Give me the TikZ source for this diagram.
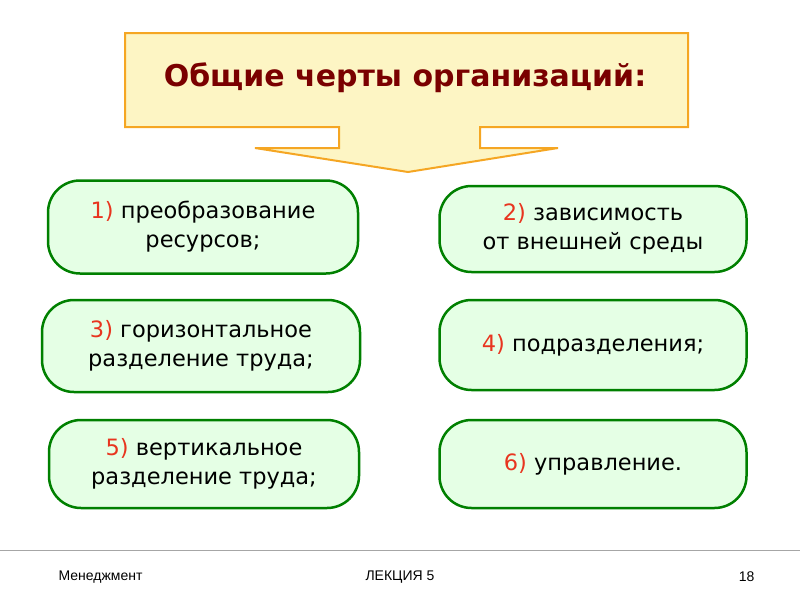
\documentclass[tikz,border=0pt]{standalone}
\usepackage{fontspec}
\setmainfont{DejaVu Sans}
\newfontfamily\arialf{Liberation Sans}
\begin{document}
\begin{tikzpicture}[x=1pt,y=-1pt,
  item/.style={draw=green!50!black,line width=2.5pt,fill=green!10,rounded corners=32pt,minimum width=310pt,align=center,inner sep=2pt,font=\fontsize{22.5}{29}\selectfont,text=black},
  foot/.style={font=\arialf\fontsize{14}{16}\selectfont}]
\definecolor{numred}{HTML}{E8351F}
\definecolor{titlered}{HTML}{7A0000}
\definecolor{callfill}{HTML}{FDF5C4}
\definecolor{callline}{HTML}{F5A623}
\useasboundingbox (0,0) rectangle (800,600);
\draw[callline,fill=callfill,line width=2pt,line join=miter]
  (125,33) -- (688,33) -- (688,127) -- (480,127) -- (480,148) -- (558,148) -- (408,172)
  -- (255,148) -- (339,148) -- (339,127) -- (125,127) -- cycle;
\node[text=titlered,font=\bfseries\fontsize{30}{34}\selectfont] (title) at (405,78) {Общие черты организаций:};
\node[item,minimum height=93pt] (b1) at (203,227) {\textcolor{numred}{1)} преобразование\\ресурсов;};
\node[item,minimum height=86pt,minimum width=307pt] (b2) at (593,229) {\textcolor{numred}{2)} зависимость\\от внешней среды};
\node[item,minimum height=92pt,minimum width=318pt] (b3) at (201,346) {\textcolor{numred}{3)} горизонтальное\\разделение труда;};
\node[item,minimum height=90pt,minimum width=307pt] (b4) at (593,345) {\textcolor{numred}{4)} подразделения;};
\node[item,minimum height=88pt,minimum width=310pt] (b5) at (204,464) {\textcolor{numred}{5)} вертикальное\\разделение труда;};
\node[item,minimum height=88pt,minimum width=307pt] (b6) at (593,464) {\textcolor{numred}{6)} управление.};
\draw[gray!70,line width=1pt] (0,550) -- (800,550);
\node[foot,anchor=west] (f1) at (55,577) {Менеджмент};
\node[foot] (f2) at (400,577) {ЛЕКЦИЯ 5};
\node[foot,anchor=east] (f3) at (758,577) {18};
\end{tikzpicture}
\end{document}
